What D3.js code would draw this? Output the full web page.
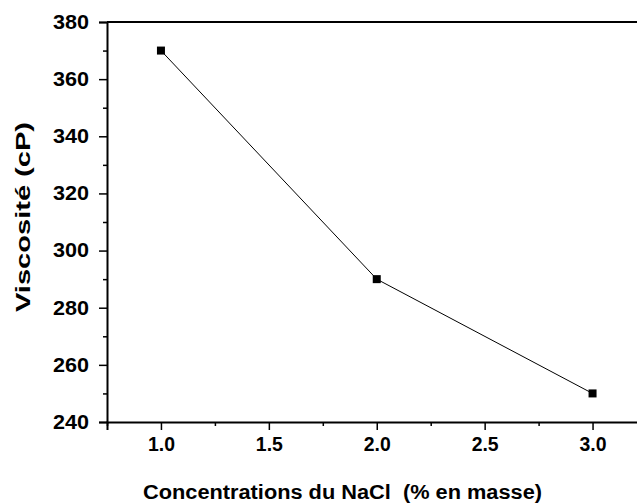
<!DOCTYPE html>
<html><head><meta charset="utf-8">
<script src="https://cdn.jsdelivr.net/npm/d3@7"></script>
<style>
body{margin:0;background:#fff;}
svg{display:block;}
text{font-family:Arial,"Liberation Sans",sans-serif;font-weight:bold;fill:#000;}
</style></head>
<body>
<svg id="chart" width="637" height="504"></svg>
<script>
const concentrations = [1.0, 2.0, 3.0];
const viscosity = [370, 290, 250];
const xTicks = [1.0, 1.5, 2.0, 2.5, 3.0];
const xMinorTicks = [0.75, 1.25, 1.75, 2.25, 2.75, 3.25];
const yTicks = [240, 260, 280, 300, 320, 340, 360, 380];
const yMinorTicks = [250, 270, 290, 310, 330, 350, 370];
const xTitle = "Concentrations du NaCl\u00a0\u00a0(% en masse)";
const yTitle = "Viscosité (cP)";

const svg = d3.select("#chart");
const L = 107, T = 22, B = 422;
const x = d3.scaleLinear().domain([0.75, 3.25]).range([L, L + 2.5 * 215.8]);
const y = d3.scaleLinear().domain([240, 380]).range([B, T]);

// x axis
const gx = svg.append("g").attr("transform", `translate(0,${B})`);
gx.call(d3.axisBottom(x).tickValues(xTicks).tickFormat(d3.format(".1f")).tickSize(8).tickPadding(7));
gx.append("g").call(d3.axisBottom(x).tickValues(xMinorTicks).tickFormat("").tickSize(4))
  .select(".domain").remove();
gx.selectAll(".domain").attr("stroke", "#000").attr("stroke-width", 2);
gx.selectAll(".tick line").attr("stroke", "#000").attr("stroke-width", 1.5);
gx.selectAll(".tick text").style("font-size", "20px").attr("textLength", 27).attr("lengthAdjust", "spacingAndGlyphs");

// y axis
const gy = svg.append("g").attr("transform", `translate(${L},0)`);
gy.call(d3.axisLeft(y).tickValues(yTicks).tickFormat(d3.format("d")).tickSize(8).tickPadding(10));
gy.append("g").call(d3.axisLeft(y).tickValues(yMinorTicks).tickFormat("").tickSize(4))
  .select(".domain").remove();
gy.selectAll(".domain").attr("stroke", "#000").attr("stroke-width", 2);
gy.selectAll(".tick line").attr("stroke", "#000").attr("stroke-width", 1.5);
gy.selectAll(".tick text").style("font-size", "20px").attr("textLength", 36).attr("lengthAdjust", "spacingAndGlyphs");

// top frame line
svg.append("line").attr("x1", x(0.75)).attr("x2", x(3.25)).attr("y1", y(380)).attr("y2", y(380))
  .attr("stroke", "#000").attr("stroke-width", 2);

// data
const pts = concentrations.map((c, i) => [c, viscosity[i]]);
svg.append("path").datum(pts)
  .attr("d", d3.line().x(d => x(d[0])).y(d => y(d[1])))
  .attr("fill", "none").attr("stroke", "#000").attr("stroke-width", 1);
svg.selectAll("rect.pt").data(pts).enter().append("rect").attr("class", "pt")
  .attr("x", d => x(d[0]) - 4).attr("y", d => y(d[1]) - 4)
  .attr("width", 8).attr("height", 8).attr("fill", "#000");

// titles
svg.append("text").attr("x", 342.5).attr("y", 499).attr("text-anchor", "middle")
  .style("font-size", "20px").attr("textLength", 399).attr("lengthAdjust", "spacingAndGlyphs").text(xTitle);
svg.append("text").attr("transform", "translate(30,217) rotate(-90)").attr("text-anchor", "middle")
  .style("font-size", "21px").attr("textLength", 190).attr("lengthAdjust", "spacingAndGlyphs").text(yTitle);
</script>
</body></html>
